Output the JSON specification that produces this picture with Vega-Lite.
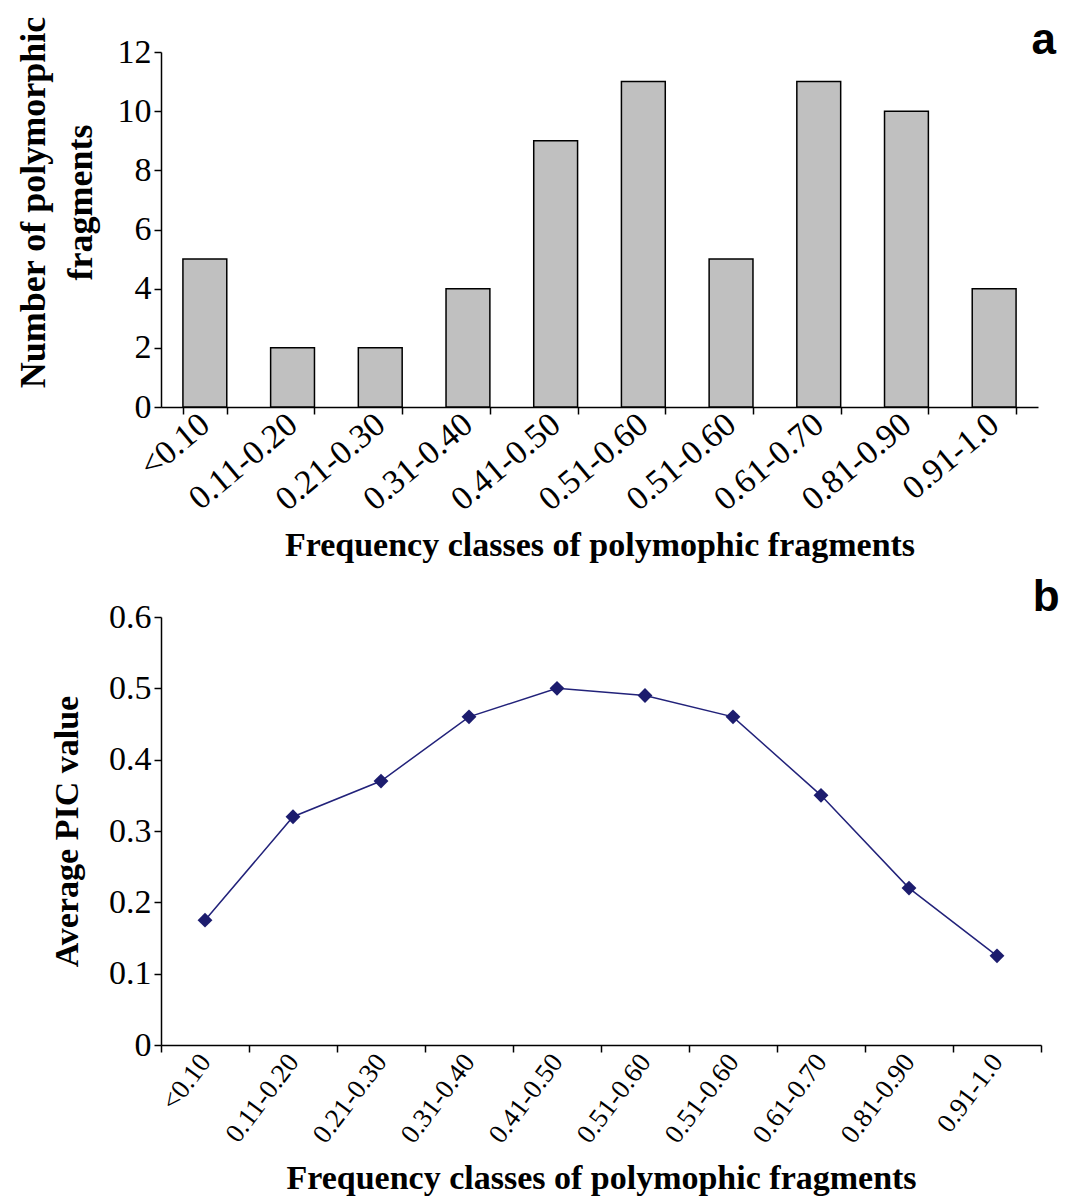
{
  "$schema": "https://vega.github.io/schema/vega-lite/v6.json",
  "padding": {"left": 15, "top": 16, "right": 8, "bottom": 2},
  "background": "white",
  "spacing": 13,
  "config": {
    "view": {"stroke": null},
    "axis": {
      "grid": false,
      "domainColor": "black",
      "tickColor": "black",
      "labelColor": "black",
      "titleColor": "black",
      "labelFont": "Liberation Serif",
      "titleFont": "Liberation Serif",
      "titleFontWeight": "bold",
      "domainWidth": 1.5,
      "tickWidth": 1.5,
      "tickSize": 7
    },
    "title": {"font": "Liberation Sans", "fontWeight": "bold", "color": "black", "anchor": "end"}
  },
  "vconcat": [
    {
      "width": 877,
      "height": 355,
      "title": {"text": "a", "fontSize": 44, "offset": -47, "dx": 18},
      "data": {
        "values": [
          {"cls": "01|<0.10", "n": 5},
          {"cls": "02|0.11-0.20", "n": 2},
          {"cls": "03|0.21-0.30", "n": 2},
          {"cls": "04|0.31-0.40", "n": 4},
          {"cls": "05|0.41-0.50", "n": 9},
          {"cls": "06|0.51-0.60", "n": 11},
          {"cls": "07|0.51-0.60", "n": 5},
          {"cls": "08|0.61-0.70", "n": 11},
          {"cls": "09|0.81-0.90", "n": 10},
          {"cls": "10|0.91-1.0", "n": 4}
        ]
      },
      "mark": {"type": "bar", "fill": "#c0c0c0", "stroke": "black", "strokeWidth": 1.5},
      "encoding": {
        "x": {
          "field": "cls",
          "type": "ordinal",
          "sort": null,
          "scale": {"paddingInner": 0.5, "paddingOuter": 0.25},
          "axis": {
            "tickBand": "extent",
            "labelAngle": -40,
            "labelAlign": "right",
            "labelBaseline": "middle",
            "labelFontSize": 34,
            "labelPadding": 6,
            "labelExpr": "split(datum.value, '|')[1]",
            "title": "Frequency classes of polymophic fragments",
            "titleFontSize": 34,
            "titlePadding": 12
          }
        },
        "y": {
          "field": "n",
          "type": "quantitative",
          "scale": {"domain": [0, 12]},
          "axis": {
            "values": [0, 2, 4, 6, 8, 10, 12],
            "labelFontSize": 34,
            "labelPadding": 3,
            "title": ["Number of polymorphic", "fragments"],
            "titleFontSize": 36,
            "titleLineHeight": 47,
            "titlePadding": 18,
            "titleY": 150
          }
        }
      }
    },
    {
      "width": 880,
      "height": 428,
      "title": {"text": "b", "fontSize": 44, "offset": -20, "dx": 18},
      "data": {
        "values": [
          {"cls": "01|<0.10", "pic": 0.175},
          {"cls": "02|0.11-0.20", "pic": 0.32},
          {"cls": "03|0.21-0.30", "pic": 0.37},
          {"cls": "04|0.31-0.40", "pic": 0.46},
          {"cls": "05|0.41-0.50", "pic": 0.5},
          {"cls": "06|0.51-0.60", "pic": 0.49},
          {"cls": "07|0.51-0.60", "pic": 0.46},
          {"cls": "08|0.61-0.70", "pic": 0.35},
          {"cls": "09|0.81-0.90", "pic": 0.22},
          {"cls": "10|0.91-1.0", "pic": 0.125}
        ]
      },
      "mark": {
        "type": "line",
        "color": "#22227a",
        "strokeWidth": 1.5,
        "point": {"shape": "diamond", "size": 220, "filled": true, "color": "#1c1c6e", "opacity": 1}
      },
      "encoding": {
        "x": {
          "field": "cls",
          "type": "ordinal",
          "sort": null,
          "scale": {"type": "band", "paddingInner": 0, "paddingOuter": 0},
          "axis": {
            "tickBand": "extent",
            "labelAngle": -53,
            "labelAlign": "right",
            "labelBaseline": "middle",
            "labelFontSize": 27,
            "labelPadding": 5,
            "labelExpr": "split(datum.value, '|')[1]",
            "title": "Frequency classes of polymophic fragments",
            "titleFontSize": 34,
            "titlePadding": 14
          }
        },
        "y": {
          "field": "pic",
          "type": "quantitative",
          "scale": {"domain": [0, 0.6]},
          "axis": {
            "values": [0, 0.1, 0.2, 0.3, 0.4, 0.5, 0.6],
            "format": "~g",
            "labelFontSize": 34,
            "labelPadding": 3,
            "title": "Average PIC value",
            "titleFontSize": 34,
            "titlePadding": 24
          }
        }
      }
    }
  ]
}
